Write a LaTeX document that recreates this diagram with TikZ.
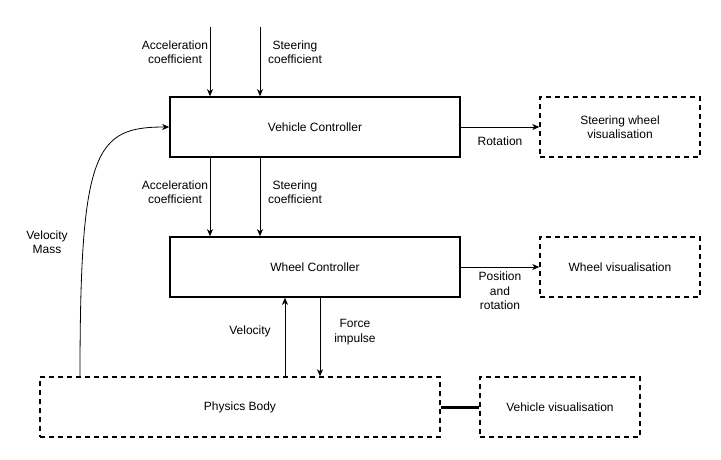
\documentclass[tikz,border=0pt]{standalone}
\usepackage{fontspec}
\setmainfont{Liberation Sans}
\usepackage{xcolor}
\usetikzlibrary{positioning, arrows.meta, calc}

\tikzset{
  ctrlbox/.style={draw, line width=1.6pt, minimum width=290pt, minimum height=60pt},
  visbox/.style={draw, line width=1.4pt, dash pattern=on 5pt off 4pt,
                 minimum width=160pt, minimum height=60pt, align=center},
  lbl/.style={align=center},
  arr/.style={-{Stealth[length=7pt, width=6pt, inset=2pt]}, line width=0.8pt}
}

\begin{document}
\begin{tikzpicture}[x=1pt, y=-1pt, font=\fontsize{12}{14.5}\selectfont]
    \useasboundingbox (0,0) rectangle (721,459);

    % boxes
    \node[ctrlbox] (vc) at (315,127) {Vehicle Controller};
    \node[ctrlbox] (wc) at (315,267) {Wheel Controller};
    \node[visbox] (swv) at (620,127) {Steering wheel\\visualisation};
    \node[visbox] (wv) at (620,267) {Wheel visualisation};
    \node[visbox, minimum width=400pt] (pb) at (240,407) {Physics Body};
    \node[visbox] (vv) at (560,407) {Vehicle visualisation};

    % free ends and offsets
    \coordinate (accin) at (210,27);
    \coordinate (steerin) at (260,27);
    \coordinate (velx) at (285,0);
    \coordinate (forcex) at (320,0);
    \coordinate (vmstart) at (80,0);

    % inputs to the vehicle controller
    \draw[arr] (accin) -- (accin |- vc.north);
    \draw[arr] (steerin) -- (steerin |- vc.north);
    \node[lbl] (acclbl) at (175,52) {Acceleration\\coefficient};
    \node[lbl] (steerlbl) at (295,52) {Steering\\coefficient};

    % vehicle controller to wheel controller
    \draw[arr] (vc.south -| accin) -- (wc.north -| accin);
    \draw[arr] (vc.south -| steerin) -- (wc.north -| steerin);
    \node[lbl] (acclbl2) at (175,192) {Acceleration\\coefficient};
    \node[lbl] (steerlbl2) at (295,192) {Steering\\coefficient};

    % outputs to the visualisations
    \draw[arr] (vc.east) -- (swv.west);
    \node[lbl] (rotlbl) at (500,141) {Rotation};
    \draw[arr] (wc.east) -- (wv.west);
    \node[lbl] (poslbl) at (500,291) {Position\\and\\rotation};

    % physics body and wheel controller
    \draw[arr] (pb.north -| velx) -- (wc.south -| velx);
    \node[lbl] (vellbl) at (250,331) {Velocity};
    \draw[arr] (wc.south -| forcex) -- (pb.north -| forcex);
    \node[lbl] (forcelbl) at (355,332) {Force\\impulse};

    % feedback to the vehicle controller
    \draw[arr] (pb.north -| vmstart) .. controls (80,150) and (95,127) .. (vc.west);
    \node[lbl] (vmlbl) at (47,242) {Velocity\\Mass};

    \draw[line width=3pt] (pb.east) -- (vv.west);
  \end{tikzpicture}
\end{document}
